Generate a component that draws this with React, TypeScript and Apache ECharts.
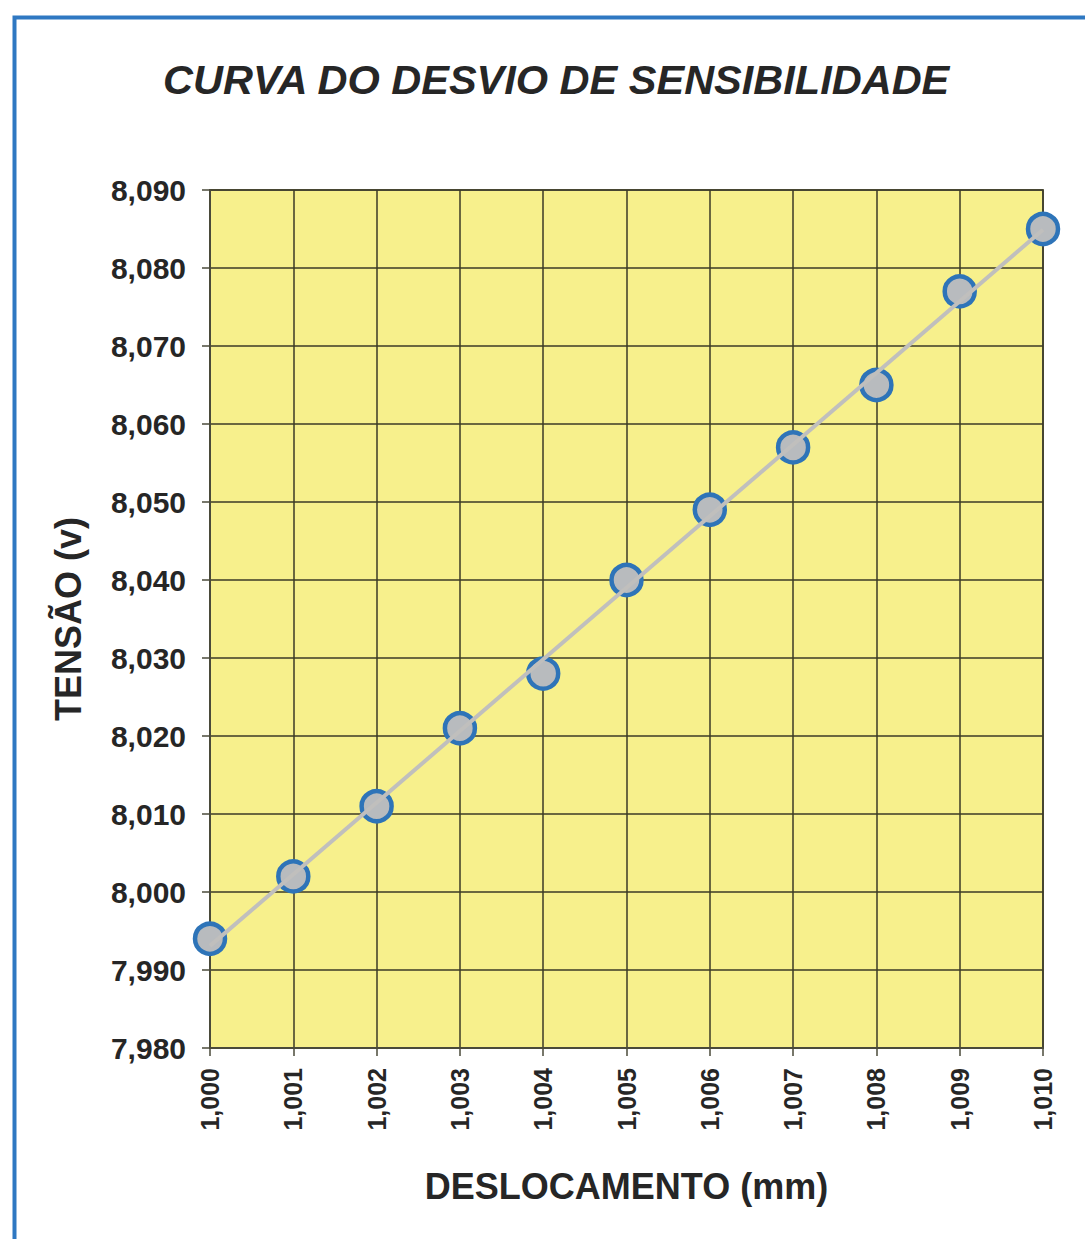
import React, { useEffect, useRef } from "react";
import * as echarts from "echarts";

const chartTitle = "CURVA DO DESVIO DE SENSIBILIDADE";
const xAxisName = "DESLOCAMENTO (mm)";
const yAxisName = "TENSÃO (v)";

const deslocamento = [1.0, 1.001, 1.002, 1.003, 1.004, 1.005, 1.006, 1.007, 1.008, 1.009, 1.01];
const tensao = [7.994, 8.002, 8.011, 8.021, 8.028, 8.04, 8.049, 8.057, 8.065, 8.077, 8.085];

const xMin = 1.0;
const xMax = 1.01;
const xStep = 0.001;
const yMin = 7.98;
const yMax = 8.09;
const yStep = 0.01;

// Linear trend line (least squares) fitted to the measured points
function linearFit(xs: number[], ys: number[]) {
  const n = xs.length;
  const mx = xs.reduce((a, b) => a + b, 0) / n;
  const my = ys.reduce((a, b) => a + b, 0) / n;
  let sxy = 0;
  let sxx = 0;
  for (let i = 0; i < n; i++) {
    sxy += (xs[i] - mx) * (ys[i] - my);
    sxx += (xs[i] - mx) * (xs[i] - mx);
  }
  const slope = sxy / sxx;
  const intercept = my - slope * mx;
  return (x: number) => intercept + slope * x;
}

const fmt = (v: number) => v.toFixed(3).replace(".", ",");

export default function App() {
  const ref = useRef<HTMLDivElement>(null);

  useEffect(() => {
    if (!ref.current) return;
    const chart = echarts.init(ref.current, null, { renderer: "svg" });
    const fit = linearFit(deslocamento, tensao);
    const x0 = deslocamento[0];
    const x1 = deslocamento[deslocamento.length - 1];
    const textColor = "#262626";
    const gridColor = "#3b3a26";
    const font = "Liberation Sans, Arial, sans-serif";

    chart.setOption({
      animation: false,
      backgroundColor: "#ffffff",
      title: {
        text: chartTitle,
        left: 158,
        top: 54,
        textStyle: {
          fontFamily: font,
          fontSize: 41.5,
          fontWeight: "bold",
          fontStyle: "italic",
          color: textColor,
        },
      },
      graphic: [
        {
          type: "rect",
          left: 12,
          top: 15,
          shape: { x: 0, y: 0, width: 1120, height: 1300 },
          style: { fill: "none", stroke: "#2f78c2", lineWidth: 4 },
          z: 100,
        },
      ],
      grid: {
        left: 210,
        right: 42,
        top: 190,
        bottom: 191,
        show: true,
        backgroundColor: "#f7f08c",
        borderColor: "#6b6b5a",
        borderWidth: 2,
      },
      xAxis: {
        type: "value",
        min: xMin,
        max: xMax,
        interval: xStep,
        name: xAxisName,
        nameLocation: "middle",
        nameGap: 120,
        nameTextStyle: {
          fontFamily: font,
          fontSize: 36,
          fontWeight: "bold",
          color: textColor,
        },
        axisLine: { show: true, onZero: false, lineStyle: { color: "#4a4a3a", width: 2 } },
        axisTick: { show: true, length: 8, lineStyle: { color: "#4a4a3a", width: 1.5 } },
        axisLabel: {
          rotate: 90,
          margin: 20,
          formatter: (v: number) => fmt(v),
          fontFamily: font,
          fontSize: 25,
          fontWeight: "bold",
          color: textColor,
        },
        splitLine: { show: true, lineStyle: { color: gridColor, width: 1.5 } },
      },
      yAxis: {
        type: "value",
        min: yMin,
        max: yMax,
        interval: yStep,
        name: yAxisName,
        nameLocation: "middle",
        nameGap: 124,
        nameTextStyle: {
          fontFamily: font,
          fontSize: 36,
          fontWeight: "bold",
          color: textColor,
        },
        axisLine: { show: true, onZero: false, lineStyle: { color: "#4a4a3a", width: 2 } },
        axisTick: { show: true, length: 8, lineStyle: { color: "#4a4a3a", width: 1.5 } },
        axisLabel: {
          margin: 24,
          formatter: (v: number) => fmt(v),
          fontFamily: font,
          fontSize: 30,
          fontWeight: "bold",
          color: textColor,
        },
        splitLine: { show: true, lineStyle: { color: gridColor, width: 1.5 } },
      },
      series: [
        {
          type: "scatter",
          data: deslocamento.map((x, i) => [x, tensao[i]]),
          symbol: "circle",
          symbolSize: 30,
          clip: false,
          itemStyle: {
            color: "#b8bbbe",
            borderColor: "#2e74b8",
            borderWidth: 4.5,
            opacity: 1,
          },
          z: 2,
        },
        {
          type: "line",
          data: [
            [x0, fit(x0)],
            [x1, fit(x1)],
          ],
          symbol: "none",
          clip: false,
          lineStyle: { color: "#c0bfbd", width: 4 },
          z: 3,
        },
      ],
    });

    return () => chart.dispose();
  }, []);

  return (
    <div
      ref={ref}
      style={{ position: "absolute", left: 0, top: 0, width: 1085, height: 1239 }}
    />
  );
}
